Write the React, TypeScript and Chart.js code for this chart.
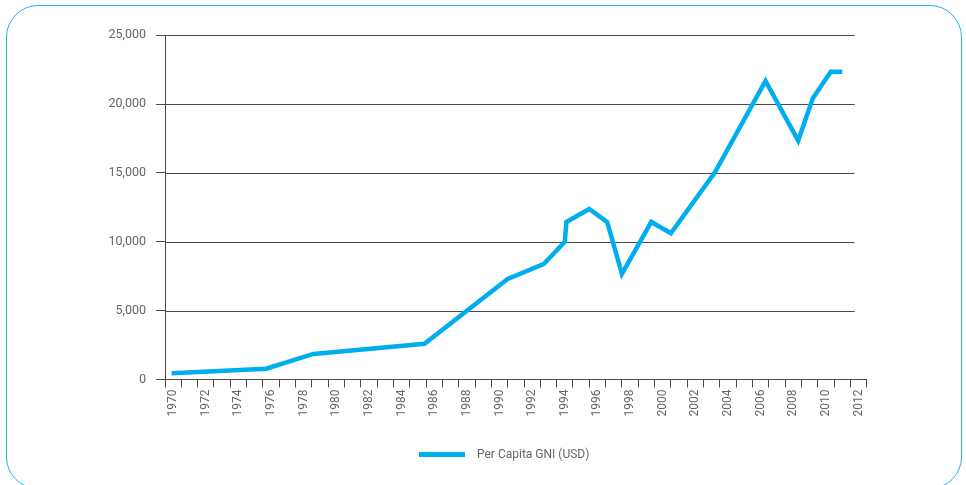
import React, { useEffect, useRef } from "react";
import { Chart, registerables } from "chart.js";

Chart.register(...registerables);

// Year categories along the bottom axis (one band per year).
const yearLabels: string[] = [
  "1970", "1971", "1972", "1973", "1974", "1975", "1976", "1977", "1978", "1979",
  "1980", "1981", "1982", "1983", "1984", "1985", "1986", "1987", "1988", "1989",
  "1990", "1991", "1992", "1993", "1994", "1995", "1996", "1997", "1998", "1999",
  "2000", "2001", "2002", "2003", "2004", "2005", "2006", "2007", "2008", "2009",
  "2010", "2011", "2012",
];

// Time position of each observation (in years) and the per capita GNI value (USD).
const yearPos: number[] = [
  1969.9, 1975.7, 1978.6, 1985.4, 1990.5, 1992.7, 1994.0, 1994.1, 1995.5, 1996.6,
  1997.5, 1999.3, 2000.5, 2003.2, 2006.3, 2008.3, 2009.2, 2010.3, 2011.0,
];
const gniUsd: number[] = [
  440, 780, 1850, 2590, 7300, 8370, 10000, 11440, 12380, 11420,
  7660, 11440, 10620, 15050, 21690, 17350, 20430, 22360, 22360,
];

const yTickValues: number[] = [0, 5000, 10000, 15000, 20000, 25000];

const SERIES_LABEL = "Per Capita GNI (USD)";
const LINE_COLOR = "#00AEEF";
const FRAME_COLOR = "#22B2EE";
const AXIS_COLOR = "#4a4a4a";
const GRID_COLOR = "#4a4a4a";
const TEXT_COLOR = "#666666";
const GRID_END_INSET = 12;

// Horizontal value grid that stops a little short of the last year band.
const valueGrid = {
  id: "valueGrid",
  beforeDatasetsDraw(chart: any) {
    const { ctx, chartArea, scales } = chart;
    const y = scales.y;
    ctx.save();
    ctx.strokeStyle = GRID_COLOR;
    ctx.lineWidth = 1;
    yTickValues.forEach((v) => {
      if (v === 0) return;
      const py = Math.round(y.getPixelForValue(v)) + 0.5;
      ctx.beginPath();
      ctx.moveTo(chartArea.left, py);
      ctx.lineTo(chartArea.right - GRID_END_INSET, py);
      ctx.stroke();
    });
    ctx.restore();
  },
};

export default function App() {
  const canvasRef = useRef<HTMLCanvasElement>(null);

  useEffect(() => {
    if (!canvasRef.current) return;
    const chart = new Chart(canvasRef.current, {
      type: "line",
      data: {
        datasets: [
          {
            label: SERIES_LABEL,
            data: yearPos.map((x, i) => ({ x, y: gniUsd[i] })),
            xAxisID: "xv",
            yAxisID: "y",
            borderColor: LINE_COLOR,
            backgroundColor: LINE_COLOR,
            borderWidth: 4.5,
            borderJoinStyle: "miter",
            pointRadius: 0,
            tension: 0,
            fill: false,
          },
        ],
      },
      options: {
        animation: false,
        responsive: false,
        maintainAspectRatio: false,
        layout: { padding: { left: 0, right: 99.3, top: 35.3, bottom: 45.6 } },
        plugins: {
          legend: { display: false },
          tooltip: { enabled: false },
        },
        scales: {
          x: {
            type: "category",
            labels: yearLabels,
            position: "bottom",
            offset: true,
            grid: {
              offset: true,
              drawOnChartArea: false,
              tickLength: 8,
              color: AXIS_COLOR,
              lineWidth: 1,
            },
            border: { color: AXIS_COLOR, width: 1 },
            ticks: {
              autoSkip: false,
              minRotation: 90,
              maxRotation: 90,
              padding: 2,
              color: TEXT_COLOR,
              font: { family: "Roboto", size: 12 },
              callback: (_v: any, i: number) => (i % 2 === 0 ? yearLabels[i] : ""),
            },
            afterFit: (s: any) => {
              s.height = 60;
            },
          },
          xv: {
            type: "linear",
            position: "bottom",
            min: 1969.5,
            max: 2012.5,
            display: false,
          },
          y: {
            type: "linear",
            min: 0,
            max: 25000,
            afterBuildTicks: (s: any) => {
              s.ticks = yTickValues.map((value) => ({ value }));
            },
            grid: {
              drawOnChartArea: false,
              tickLength: 9,
              color: AXIS_COLOR,
              lineWidth: 1,
            },
            border: { color: AXIS_COLOR, width: 1 },
            ticks: {
              padding: 10,
              color: TEXT_COLOR,
              font: { family: "Roboto", size: 12.5 },
              callback: (v: any) => Number(v).toLocaleString("en-US"),
            },
            afterFit: (s: any) => {
              s.width = 165;
            },
          },
        },
      } as any,
      plugins: [valueGrid],
    });
    return () => chart.destroy();
  }, []);

  return (
    <div style={{ position: "absolute", left: 0, top: 0, width: 966, height: 485, background: "#fff", overflow: "hidden" }}>
      <div
        style={{
          position: "absolute",
          left: 6,
          top: 5,
          width: 956,
          height: 484,
          border: `1.5px solid ${FRAME_COLOR}`,
          borderRadius: 32,
          boxSizing: "border-box",
        }}
      />
      <canvas ref={canvasRef} width={966} height={485} style={{ position: "absolute", left: 0, top: 0, display: "block" }} />
      <div
        style={{
          position: "absolute",
          left: 419,
          top: 446,
          height: 16,
          display: "flex",
          alignItems: "center",
        }}
      >
        <span style={{ display: "inline-block", width: 46, height: 5, background: LINE_COLOR, marginRight: 12 }} />
        <span style={{ fontFamily: "Roboto", fontSize: 12, color: TEXT_COLOR, whiteSpace: "nowrap" }}>{SERIES_LABEL}</span>
      </div>
    </div>
  );
}
